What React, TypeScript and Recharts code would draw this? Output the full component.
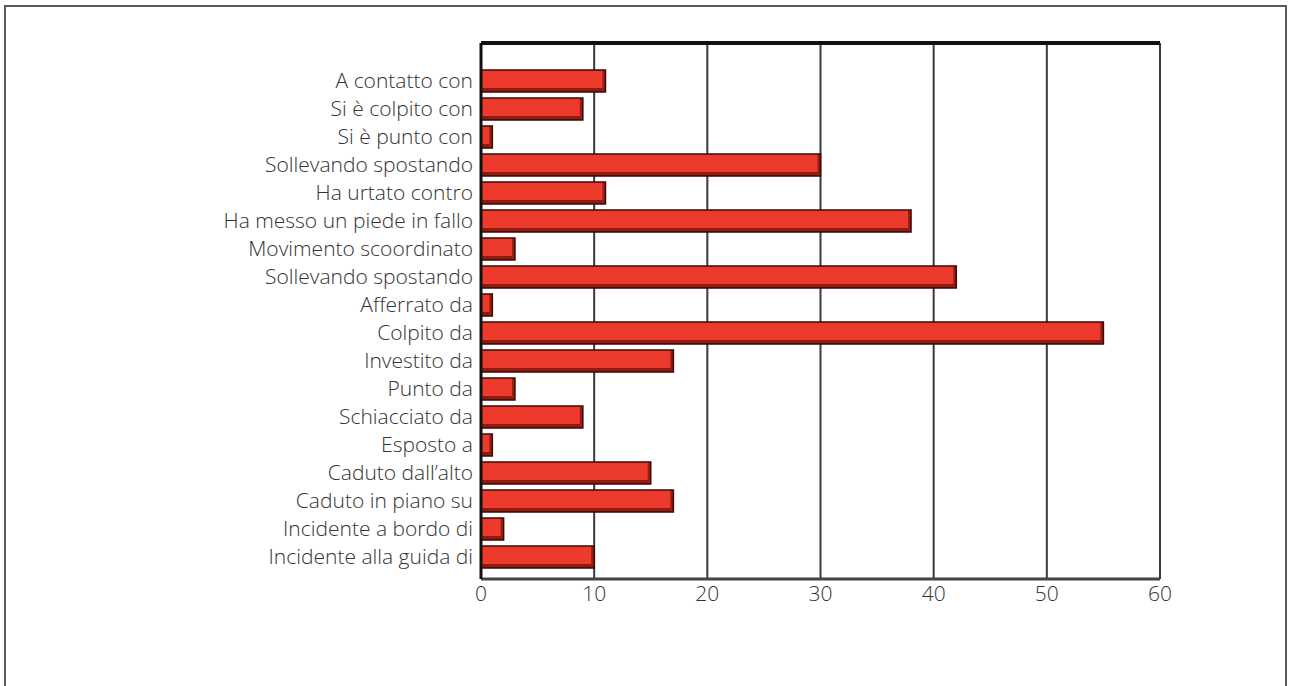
import { Bar, BarChart, CartesianGrid, XAxis, YAxis } from "recharts"

const categories = [
  "A contatto con",
  "Si è colpito con",
  "Si è punto con",
  "Sollevando spostando",
  "Ha urtato contro",
  "Ha messo un piede in fallo",
  "Movimento scoordinato",
  "Sollevando spostando ",
  "Afferrato da",
  "Colpito da",
  "Investito da",
  "Punto da",
  "Schiacciato da",
  "Esposto a",
  "Caduto dall’alto",
  "Caduto in piano su",
  "Incidente a bordo di",
  "Incidente alla guida di",
]

const values = [11, 9, 1, 30, 11, 38, 3, 42, 1, 55, 17, 3, 9, 1, 15, 17, 2, 10]

const xTicks = [0, 10, 20, 30, 40, 50, 60]

const data = categories.map((name, i) => ({ name, value: values[i] }))

const font = "'Open Sans', Lato, sans-serif"

// red bar with a dark outline and a shaded lower edge
function BevelBar(props: any) {
  const { x, y, width, height } = props
  if (!width || width <= 0) return null
  return (
    <g>
      <rect x={x} y={y} width={width} height={height} fill="#ec3a2c" />
      <rect x={x} y={y + height - 4} width={width} height={4} fill="#8e1a10" />
      <rect x={x + width - 3} y={y} width={3} height={height} fill="#9a1d12" />
      <rect
        x={x}
        y={y}
        width={width}
        height={height}
        fill="none"
        stroke="#3a0b07"
        strokeWidth={1.5}
      />
    </g>
  )
}

export default function App() {
  return (
    <div style={{ position: "absolute", left: 0, top: 0, width: 1290, height: 686, overflow: "hidden", background: "#fff" }}>
      <div
        style={{
          position: "absolute",
          left: 4,
          top: 5,
          width: 1283,
          height: 700,
          borderLeft: "2px solid #5a5a5a",
          borderTop: "2px solid #5a5a5a",
          borderRight: "2px solid #5a5a5a",
          boxSizing: "border-box",
        }}
      />
      <BarChart
        width={1290}
        height={686}
        data={data}
        layout="vertical"
        margin={{ top: 42, right: 130, bottom: 77, left: 0 }}
        barSize={22}
        style={{ position: "absolute", left: 0, top: 0 }}
      >
        <CartesianGrid horizontal={false} stroke="#3a3a3a" strokeWidth={2} />
        <XAxis
          type="number"
          domain={[0, 60]}
          ticks={xTicks}
          tickLine={false}
          tickSize={0}
          tickMargin={7}
          axisLine={{ stroke: "#444", strokeWidth: 3 }}
          tick={{ fill: "#333", fontSize: 21, fontWeight: 300, fontFamily: font }}
          interval={0}
          height={30}
        />
        <XAxis
          xAxisId="top"
          orientation="top"
          type="number"
          domain={[0, 60]}
          tick={false}
          tickLine={false}
          axisLine={{ stroke: "#111", strokeWidth: 4 }}
          height={1}
        />
        <YAxis
          type="category"
          dataKey="name"
          width={481}
          tickLine={false}
          tickSize={0}
          tickMargin={8}
          axisLine={{ stroke: "#111", strokeWidth: 3 }}
          tick={{ fill: "#333", fontSize: 21, fontWeight: 300, fontFamily: font }}
          interval={0}
          padding={{ top: 24, bottom: 8 }}
        />
        <Bar dataKey="value" shape={<BevelBar />} isAnimationActive={false} />
      </BarChart>
    </div>
  )
}
